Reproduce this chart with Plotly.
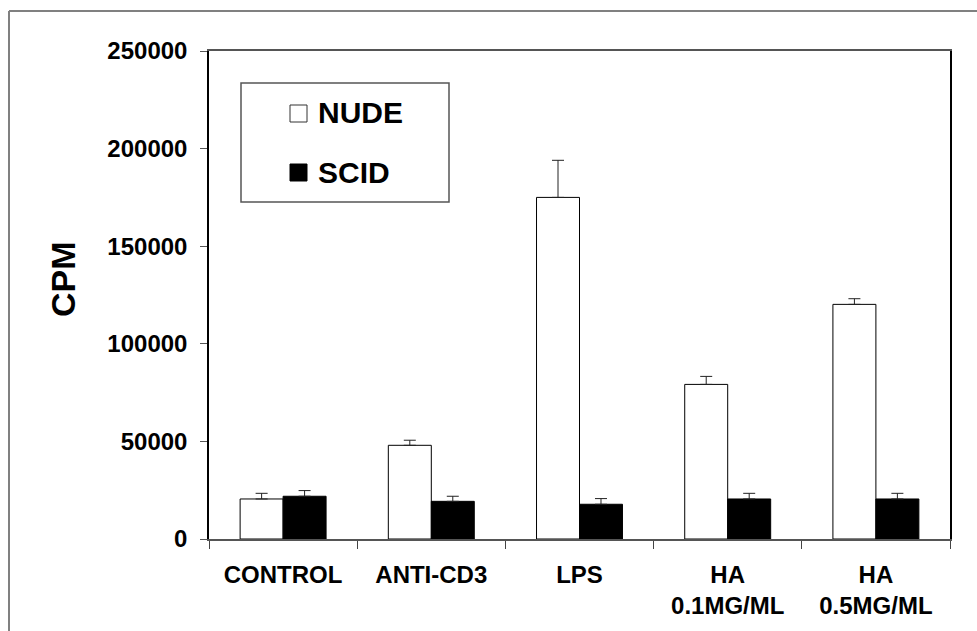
import plotly.graph_objects as go

categories = ["CONTROL", "ANTI-CD3", "LPS", "HA<br>0.1MG/ML", "HA<br>0.5MG/ML"]
nude_values = [20500, 48000, 175000, 79200, 120200]
nude_errors = [2900, 2600, 19000, 4100, 2900]
scid_values = [21900, 19300, 17800, 20500, 20500]
scid_errors = [2900, 2600, 2900, 2900, 2900]
y_ticks = [0, 50000, 100000, 150000, 200000, 250000]

FONT = "Liberation Sans, Arial, sans-serif"
W, H = 977, 631
L, R, T, B = 209, 27, 51, 92
PW, PH = W - L - R, H - T - B


def px(xp):
    return (xp - L) / PW


def py(yp):
    return (H - B - yp) / PH


fig = go.Figure()
fig.add_trace(go.Bar(
    name="NUDE", x=categories, y=nude_values,
    marker=dict(color="white", line=dict(color="black", width=1)),
    error_y=dict(type="data", array=nude_errors, arrayminus=[0] * 5, symmetric=False,
                 color="#222222", thickness=1, width=6),
    showlegend=False,
))
fig.add_trace(go.Bar(
    name="SCID", x=categories, y=scid_values,
    marker=dict(color="black", line=dict(color="black", width=1)),
    error_y=dict(type="data", array=scid_errors, arrayminus=[0] * 5, symmetric=False,
                 color="#222222", thickness=1, width=6),
    showlegend=False,
))

shapes = [
    # outer frame (top and left)
    dict(type="line", xref="paper", yref="paper", x0=px(9), x1=px(990), y0=py(11), y1=py(11),
         line=dict(color="#808080", width=2)),
    dict(type="line", xref="paper", yref="paper", x0=px(9), x1=px(9), y0=py(11), y1=py(640),
         line=dict(color="#808080", width=2)),
    # legend box
    dict(type="rect", xref="paper", yref="paper", x0=px(241), x1=px(449), y0=py(202), y1=py(83),
         line=dict(color="#555555", width=1.5), fillcolor="rgba(0,0,0,0)"),
    dict(type="rect", xref="paper", yref="paper", x0=px(290), x1=px(307), y0=py(122), y1=py(105),
         line=dict(color="#333333", width=1), fillcolor="white"),
    dict(type="rect", xref="paper", yref="paper", x0=px(290), x1=px(307), y0=py(181), y1=py(164),
         line=dict(color="black", width=1), fillcolor="black"),
]

annotations = [
    dict(text="<b>NUDE</b>", xref="paper", yref="paper", x=px(316), y=py(113),
         xanchor="left", yanchor="middle", showarrow=False,
         font=dict(family=FONT, size=30, color="black")),
    dict(text="<b>SCID</b>", xref="paper", yref="paper", x=px(316), y=py(172),
         xanchor="left", yanchor="middle", showarrow=False,
         font=dict(family=FONT, size=30, color="black")),
    dict(text="<b>CPM</b>", xref="paper", yref="paper", x=px(63), y=py(279),
         xanchor="center", yanchor="middle", showarrow=False, textangle=-90,
         font=dict(family=FONT, size=34, color="black")),
]

fig.update_layout(
    width=W, height=H,
    margin=dict(l=L, r=R, t=T, b=B, pad=0),
    paper_bgcolor="white", plot_bgcolor="white",
    barmode="group", bargap=0.42, bargroupgap=0,
    font=dict(family=FONT, size=24, color="black"),
    shapes=shapes, annotations=annotations,
    showlegend=False,
)
fig.update_xaxes(
    type="category", tickson="boundaries", ticks="outside", ticklen=8, tickcolor="#444444",
    showline=True, linecolor="#555555", linewidth=1.5, mirror=True, showgrid=False,
    tickfont=dict(family=FONT, size=24, color="black", weight="bold"),
    ticklabelstandoff=13,
)
fig.update_yaxes(
    range=[0, 250000], tickvals=y_ticks, ticktext=[str(v) for v in y_ticks],
    ticks="outside", ticklen=7, tickcolor="#555555",
    showline=True, linecolor="black", linewidth=1.5, mirror=True, showgrid=False, zeroline=False,
    tickfont=dict(family=FONT, size=24, color="black", weight="bold"),
    ticklabelstandoff=8,
)

fig.write_html("out.html")
